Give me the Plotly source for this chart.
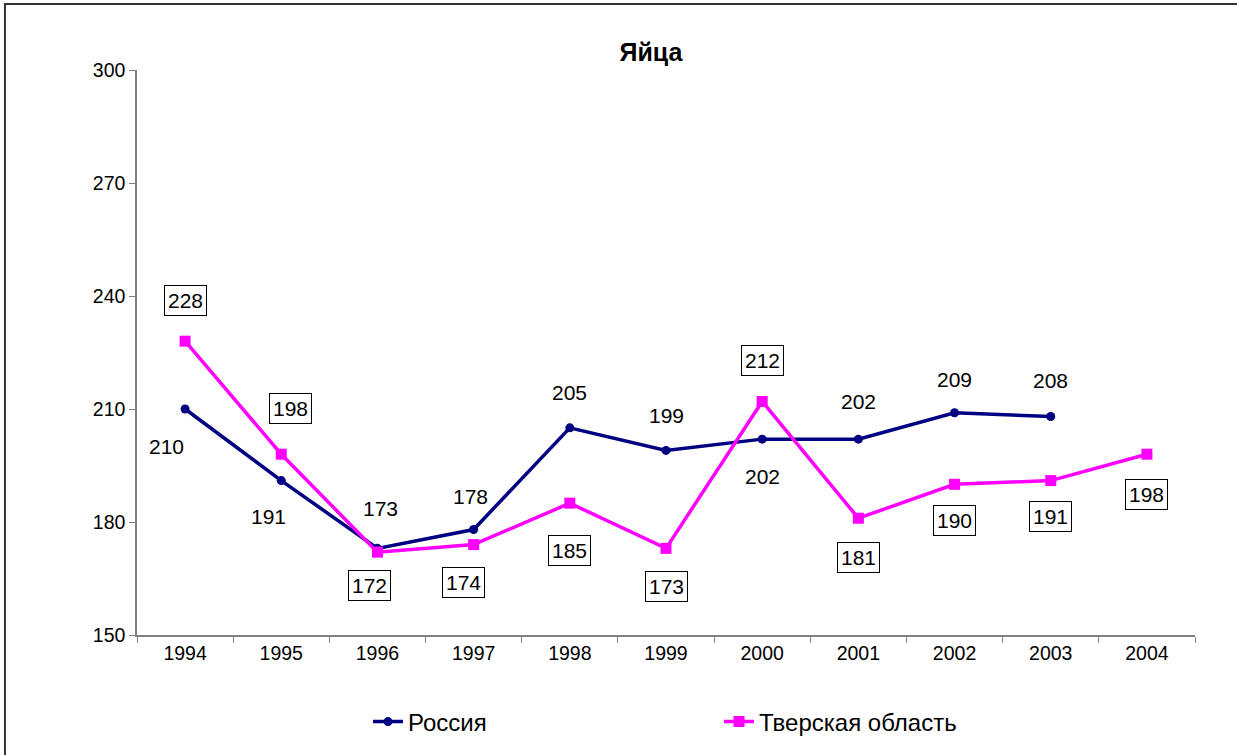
import plotly.graph_objects as go

years = ["1994", "1995", "1996", "1997", "1998", "1999", "2000", "2001", "2002", "2003", "2004"]
russia = [210, 191, 173, 178, 205, 199, 202, 202, 209, 208, None]
tver = [228, 198, 172, 174, 185, 173, 212, 181, 190, 191, 198]

# label offsets in px (x, y) — up is positive
russia_off = [(-19, -37), (-13, -36), (3, 40), (-3, 33), (0, 35), (0, 35), (0, -37), (0, 38), (0, 33), (0, 36), None]
tver_off = [(0, 41), (9, 46), (-8, -33), (-10, -38), (0, -47), (0, -38), (0, 41), (0, -39), (0, -36), (0, -36), (0, -40)]

FONT = "Liberation Sans, Arial"

fig = go.Figure()

fig.add_trace(go.Scatter(
    x=years, y=russia, name="Россия", mode="lines+markers",
    line=dict(color="#000080", width=3.5),
    marker=dict(symbol="circle", size=9, color="#000080"),
))
fig.add_trace(go.Scatter(
    x=years, y=tver, name="Тверская область", mode="lines+markers",
    line=dict(color="#FF00FF", width=3.5),
    marker=dict(symbol="square", size=11, color="#FF00FF"),
))

# category axis: annotations need the category index, not the "1994" string
for i, (v, off) in enumerate(zip(russia, russia_off)):
    if v is None:
        continue
    fig.add_annotation(
        x=i, y=v, text=str(v), showarrow=False,
        xshift=off[0], yshift=off[1],
        font=dict(size=21, color="black", family=FONT),
    )

for i, (v, off) in enumerate(zip(tver, tver_off)):
    fig.add_annotation(
        x=i, y=v, text=str(v), showarrow=False,
        xshift=off[0], yshift=off[1],
        font=dict(size=21, color="black", family=FONT),
        bordercolor="black", borderwidth=1, borderpad=3, bgcolor="white",
    )

# outer chart border
fig.add_shape(
    type="rect", xref="paper", yref="paper",
    x0=-0.1248, y0=-0.4, x1=1.2, y1=1.1168,
    line=dict(color="#333333", width=2), fillcolor="rgba(0,0,0,0)",
    layer="below",
)

fig.update_layout(
    width=1237, height=755,
    margin=dict(l=137, r=42, t=70, b=120),
    plot_bgcolor="white", paper_bgcolor="white",
    font=dict(family=FONT, color="black", size=19),
    title=dict(
        text="<b>Яйца</b>", xref="container", yref="container",
        x=651 / 1237, y=1 - 52 / 755, xanchor="center", yanchor="middle",
        font=dict(size=25),
    ),
    xaxis=dict(
        type="category", range=[-0.5, 10.5], tickson="boundaries",
        ticks="outside", ticklen=6, tickcolor="#808080",
        showline=True, linecolor="#808080", linewidth=1.5,
        showgrid=False, tickfont=dict(size=19.5),
    ),
    yaxis=dict(
        range=[150, 300], dtick=30, tick0=150,
        ticks="outside", ticklen=6, tickcolor="#808080",
        showline=True, linecolor="#808080", linewidth=1.5,
        showgrid=False, zeroline=False, tickfont=dict(size=19.5),
    ),
    legend=dict(
        orientation="h", x=368 / 1237, xref="container", xanchor="left",
        y=1 - 722 / 755, yref="container", yanchor="middle",
        entrywidth=306, font=dict(size=24),
    ),
)

fig.write_html(
    "out.html",
    config={"displayModeBar": False},
    post_script="document.body.style.margin='0';",
)
